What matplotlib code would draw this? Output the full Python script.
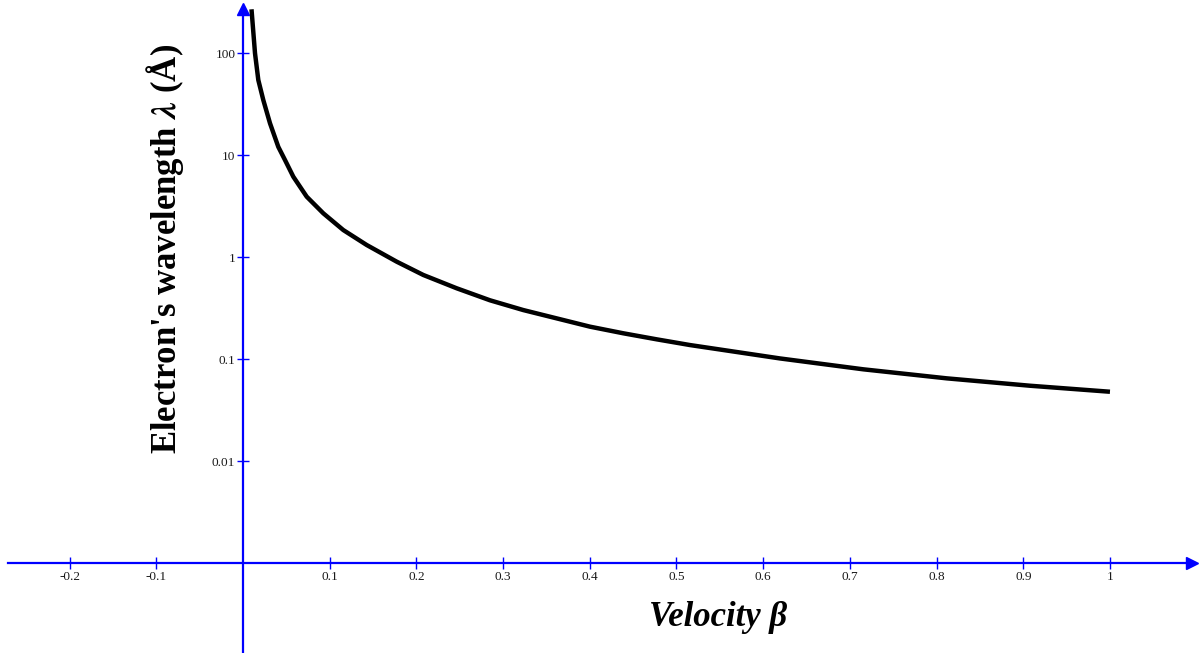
import numpy as np
import matplotlib.pyplot as plt

plt.rcParams['font.family'] = ['Liberation Serif', 'DejaVu Serif']
plt.rcParams['mathtext.fontset'] = 'stix'

# values
beta = [0.0098, 0.01384, 0.01765, 0.02341, 0.03114, 0.04071, 0.04844, 0.05802,
        0.07347, 0.09262, 0.1157, 0.1427, 0.1773, 0.2080, 0.2465, 0.2849,
        0.3233, 0.3618, 0.4002, 0.4386, 0.4772, 0.5156, 0.6194, 0.7155,
        0.8116, 0.9077, 1.0]
wavelength = [270, 100, 54.7, 34.8, 20.6, 12.1, 8.99, 6.17,
              3.93, 2.70, 1.85, 1.32, 0.906, 0.671, 0.497, 0.379,
              0.304, 0.252, 0.209, 0.180, 0.157, 0.138, 0.102, 0.0798,
              0.0651, 0.0551, 0.0481]

x_ticks = [-0.2, -0.1, 0.1, 0.2, 0.3, 0.4, 0.5, 0.6, 0.7, 0.8, 0.9, 1]
x_tick_labels = ['-0.2', '-0.1', '0.1', '0.2', '0.3', '0.4', '0.5', '0.6', '0.7', '0.8', '0.9', '1']
y_ticks = [0.01, 0.1, 1, 10, 100]
y_tick_labels = ['0.01', '0.1', '1', '10', '100']

W, H = 1199, 653
fig = plt.figure(figsize=(W / 100, H / 100), dpi=100)
ax = fig.add_axes([0, 0, 1, 1])
ax.set_yscale('log')
ax.set_xlim(-0.2803, 1.1027)
ax.set_ylim(10 ** -3.879, 10 ** 2.5225)

ax.plot(beta, wavelength, color='black', lw=3.2, solid_capstyle='butt',
        solid_joinstyle='round', zorder=3)

blue = '#0000ff'
for s in ['top', 'right']:
    ax.spines[s].set_visible(False)
ax.spines['left'].set_position(('data', 0))
ax.spines['bottom'].set_position(('data', 0.001))
ax.spines['left'].set_color(blue)
ax.spines['bottom'].set_color(blue)
ax.spines['left'].set_linewidth(1.6)
ax.spines['bottom'].set_linewidth(1.6)
ax.spines['left'].set_bounds(10 ** -3.879, 10 ** 2.43)
ax.spines['bottom'].set_bounds(-0.271, 1.095)

ax.plot([0], [10 ** 2.43], marker='^', color=blue, markersize=9, clip_on=False, zorder=4)
ax.plot([1.095], [0.001], marker='>', color=blue, markersize=9, clip_on=False, zorder=4)

ax.set_xticks(x_ticks)
ax.set_xticklabels(x_tick_labels)
ax.set_yticks(y_ticks)
ax.set_yticklabels(y_tick_labels)
ax.yaxis.set_minor_locator(plt.NullLocator())
ax.tick_params(axis='both', direction='inout', length=9, width=1, color=blue,
               labelsize=9.5, labelcolor='#1a1a1a', pad=1)

fig.text(165 / W, 1 - 249 / H, "Electron's wavelength $\\mathbfit{\\lambda}$ (Å)", rotation=90,
         fontsize=25, fontweight='bold', ha='center', va='center')
fig.text(718 / W, 1 - 618 / H, 'Velocity β', fontsize=25, fontweight='bold',
         fontstyle='italic', ha='center', va='center')

fig.savefig('out.png', dpi=100, facecolor='white')
